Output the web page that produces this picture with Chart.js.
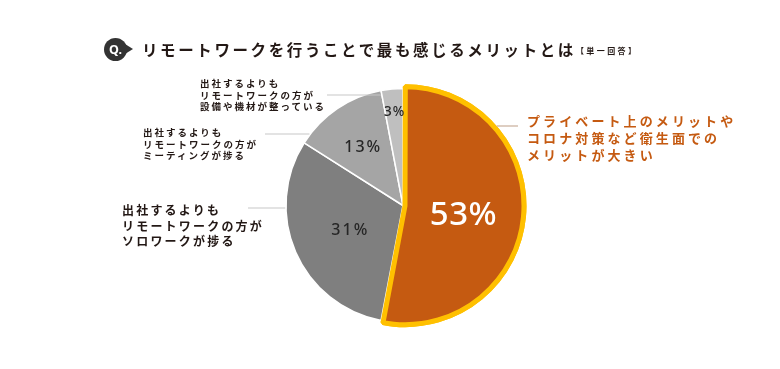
<!DOCTYPE html>
<html lang="ja">
<head>
<meta charset="utf-8">
<title>リモートワークを行うことで最も感じるメリットとは</title>
<script src="https://cdn.jsdelivr.net/npm/chart.js@4.4.1/dist/chart.umd.min.js"></script>
<style>
  html, body { margin: 0; padding: 0; background: #fff; }
  #wrap { position: relative; width: 780px; height: 369px; overflow: hidden;
          font-family: 'Noto Sans CJK JP', 'Noto Sans', sans-serif; }
  #chart { position: absolute; left: 0; top: 0; }
  .badge { position: absolute; left: 104px; top: 38px; width: 23px; height: 23px; border-radius: 50%;
           background: #333; color: #fff; font: 700 12.5px/23px 'Noto Sans', sans-serif; text-align: center; }
  .badge::after { content: ''; position: absolute; right: -6px; top: 6px;
                  border-left: 8px solid #333; border-top: 5.5px solid transparent; border-bottom: 5.5px solid transparent; }
  .title { position: absolute; left: 142px; top: 39px; font-size: 15.5px; line-height: 20px; font-weight: 700;
           letter-spacing: 2.6px; color: #231815; white-space: nowrap; }
  .title small { font-size: 8px; letter-spacing: 2.4px; vertical-align: 2px; }
  .lbl { position: absolute; white-space: pre; font-weight: 700; color: #231815; }
</style>
</head>
<body>
<div id="wrap">
  <canvas id="chart" width="780" height="369"></canvas>
  <div class="badge">Q.</div>
  <div class="title">リモートワークを行うことで最も感じるメリットとは<small>【単一回答】</small></div>
</div>
<script>
// data, clockwise from 12 o'clock
const categories = [
  'プライベート上のメリットや\nコロナ対策など衛生面での\nメリットが大きい',
  '出社するよりも\nリモートワークの方が\nソロワークが捗る',
  '出社するよりも\nリモートワークの方が\nミーティングが捗る',
  '出社するよりも\nリモートワークの方が\n設備や機材が整っている'
];
const shares = [53, 31, 13, 3];

const sliceColors = ['#C55A11', '#7F7F7F', '#A5A5A5', '#BFBFBF'];
const sliceBorders = ['#FFC000', '#FFFFFF', '#FFFFFF', '#FFFFFF'];

// where the outer labels sit, and their leader line (side: 1 = right of pie, -1 = left)
const labelBoxes = [
  { left: 527, top: 113, size: 13, lh: 16.8, ls: 3.1, color: '#C55A11', lineY: 126, lineX: 518, side: 1, lineColor: '#C8AE99' },
  { left: 122, top: 202, size: 12, lh: 15.5, ls: 2.2, color: '#231815', lineY: 208, lineX: 248, side: -1, lineColor: '#C8C8C8' },
  { left: 143, top: 127, size: 9.5, lh: 11.5, ls: 2, color: '#231815', lineY: 134, lineX: 265, side: -1, lineColor: '#C8C8C8' },
  { left: 200, top: 78, size: 9.5, lh: 11.5, ls: 2, color: '#231815', lineY: 95, lineX: 327, side: -1, lineColor: '#C8C8C8' }
];
// percent labels inside the pie: fraction of radius along the mid angle, then a small nudge
const pctFrac = [0.5, 0.5, 0.62, 0.81];
const pctNudge = [[0, 2], [0, 1], [0, 1], [0, 0]];
const pctFont = [[33, '#FFFFFF', 0.5], [16, '#262626', 2], [16, '#262626', 2], [13.5, '#262626', 1]];

const wrap = document.getElementById('wrap');
labelBoxes.forEach((b, i) => {
  const d = document.createElement('div');
  d.className = 'lbl';
  d.textContent = categories[i];
  d.style.left = b.left + 'px';
  d.style.top = b.top + 'px';
  d.style.fontSize = b.size + 'px';
  d.style.lineHeight = b.lh + 'px';
  d.style.letterSpacing = b.ls + 'px';
  d.style.color = b.color;
  wrap.appendChild(d);
});

// translation + radius of an arc as chart.js draws it (offset is /4 in v4)
function arcGeom(arc) {
  const o = (arc.options.offset || 0) / 4;
  const mid = (arc.startAngle + arc.endAngle) / 2;
  const circ = arc.endAngle - arc.startAngle;
  const fix = 1 - Math.sin(Math.min(Math.PI, circ));
  return {
    x: arc.x + Math.cos(mid) * o,
    y: arc.y + Math.sin(mid) * o,
    r: arc.outerRadius + o * fix + (arc.options.borderWidth || 0) / 2,
    mid: mid
  };
}

const piePlugin = {
  id: 'piePlugin',
  afterDatasetsDraw(chart) {
    const ctx = chart.ctx;
    const arcs = chart.getDatasetMeta(0).data;
    // orange slice on top so its yellow border is not covered
    arcs[0].draw(ctx);

    // leader lines
    labelBoxes.forEach((b, i) => {
      const g = arcGeom(arcs[i]);
      const dy = b.lineY - g.y;
      let ex = g.x + b.side * Math.sqrt(Math.max(g.r * g.r - dy * dy, 0));
      let a = Math.atan2(b.lineY - g.y, ex - g.x);
      while (a < arcs[i].startAngle) a += Math.PI * 2;
      if (a > arcs[i].endAngle) {
        ex = g.x + Math.cos(arcs[i].startAngle) * g.r;
      }
      ctx.save();
      ctx.strokeStyle = b.lineColor;
      ctx.lineWidth = 1.2;
      ctx.beginPath();
      ctx.moveTo(b.lineX, b.lineY);
      ctx.lineTo(ex, b.lineY);
      ctx.stroke();
      ctx.restore();
    });

    // percentages
    arcs.forEach((arc, i) => {
      const g = arcGeom(arc);
      const rr = arc.outerRadius * pctFrac[i];
      const f = pctFont[i];
      ctx.save();
      ctx.font = '500 ' + f[0] + 'px "Noto Sans", sans-serif';
      ctx.fillStyle = f[1];
      ctx.letterSpacing = f[2] + 'px';
      ctx.textAlign = 'center';
      ctx.textBaseline = 'alphabetic';
      const px = g.x + Math.cos(g.mid) * rr + f[2] / 2 + pctNudge[i][0];
      const py = g.y + Math.sin(g.mid) * rr + f[0] * 0.357 + pctNudge[i][1];
      ctx.fillText(shares[i] + '%', px, py);
      ctx.restore();
    });
  }
};

new Chart(document.getElementById('chart'), {
  type: 'pie',
  data: {
    labels: categories,
    datasets: [{
      data: shares,
      backgroundColor: sliceColors,
      borderColor: sliceBorders,
      borderWidth: [5, 1.5, 1.5, 1.5],
      offset: [8, 0, 0, 0],
      radius: 117
    }]
  },
  options: {
    responsive: false,
    animation: false,
    layout: { padding: { left: 126, right: 100, top: 62, bottom: 20 } },
    plugins: {
      legend: { display: false },
      tooltip: { enabled: false }
    }
  },
  plugins: [piePlugin]
});
</script>
</body>
</html>
